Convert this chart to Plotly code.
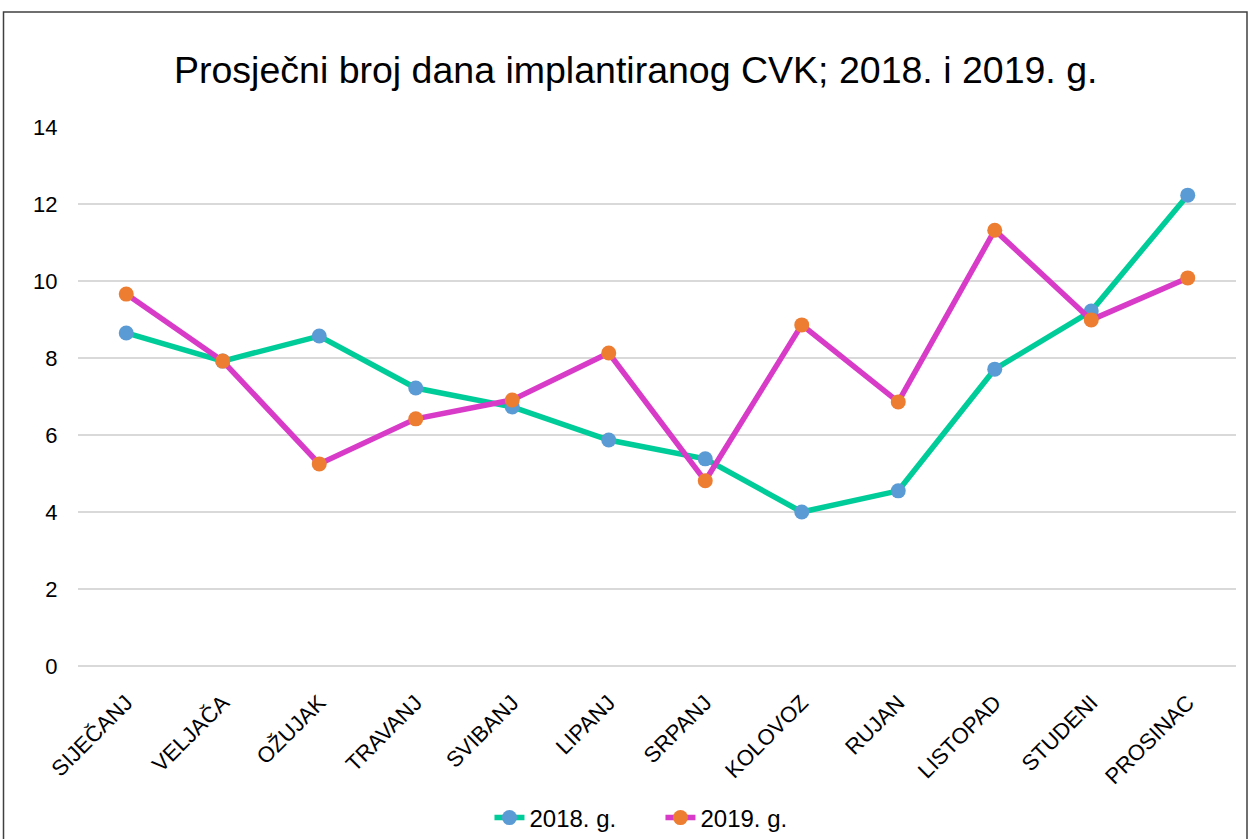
import plotly.graph_objects as go

months = ["SIJEČANJ", "VELJAČA", "OŽUJAK", "TRAVANJ", "SVIBANJ", "LIPANJ",
          "SRPANJ", "KOLOVOZ", "RUJAN", "LISTOPAD", "STUDENI", "PROSINAC"]
y2018 = [8.65, 7.92, 8.57, 7.22, 6.73, 5.87, 5.38, 4.0, 4.55, 7.71, 9.22, 12.23]
y2019 = [9.66, 7.92, 5.25, 6.42, 6.91, 8.13, 4.81, 8.86, 6.86, 11.32, 8.99, 10.08]
series_names = ["2018. g.", "2019. g."]
title = "Prosječni broj dana implantiranog CVK; 2018. i 2019. g."

fig = go.Figure()
fig.add_trace(go.Scatter(x=months, y=y2018, name=series_names[0], mode="lines+markers",
                         line=dict(color="#00CC99", width=5.5),
                         marker=dict(color="#5B9BD5", size=15)))
fig.add_trace(go.Scatter(x=months, y=y2019, name=series_names[1], mode="lines+markers",
                         line=dict(color="#D83BC8", width=5.5),
                         marker=dict(color="#ED7D31", size=15)))

fig.update_layout(
    width=1249, height=839,
    margin=dict(l=78, r=13, t=127, b=173, autoexpand=False),
    paper_bgcolor="white", plot_bgcolor="white",
    font=dict(family="Liberation Sans, Arial, sans-serif", color="black"),
    title=dict(text=title, x=0.509, xanchor="center", y=0.9166, yanchor="middle",
               font=dict(size=37.5, color="black")),
    xaxis=dict(type="category", range=[-0.5, 11.5], tickangle=-45,
               tickfont=dict(size=22), showgrid=False, showline=False,
               ticks="outside", ticklen=14, tickcolor="rgba(0,0,0,0)"),
    yaxis=dict(range=[0, 14], dtick=2, tickfont=dict(size=22),
               gridcolor="#D9D9D9", gridwidth=2, zeroline=False, showline=False,
               ticks="outside", ticklen=15, tickcolor="rgba(0,0,0,0)"),
    legend=dict(orientation="h", x=0.503, xanchor="center",
                yref="container", y=1 - 818 / 839, yanchor="middle",
                font=dict(size=24), entrywidth=126),
    showlegend=True,
)
fig.add_shape(type="line", xref="paper", yref="paper", x0=0, x1=1,
              y0=0, y1=0, line=dict(color="#D9D9D9", width=2), layer="below")
fig.add_shape(type="rect", xref="paper", yref="paper",
              x0=(3.5 - 78) / 1158, x1=(1247 - 78) / 1158,
              y0=(666 - 850) / 539, y1=(666 - 12) / 539,
              line=dict(color="#404040", width=1.5), fillcolor="rgba(0,0,0,0)")

fig.write_html("out.html", config={"displayModeBar": False},
               post_script="document.body.style.margin='0';document.body.style.overflow='hidden';")
